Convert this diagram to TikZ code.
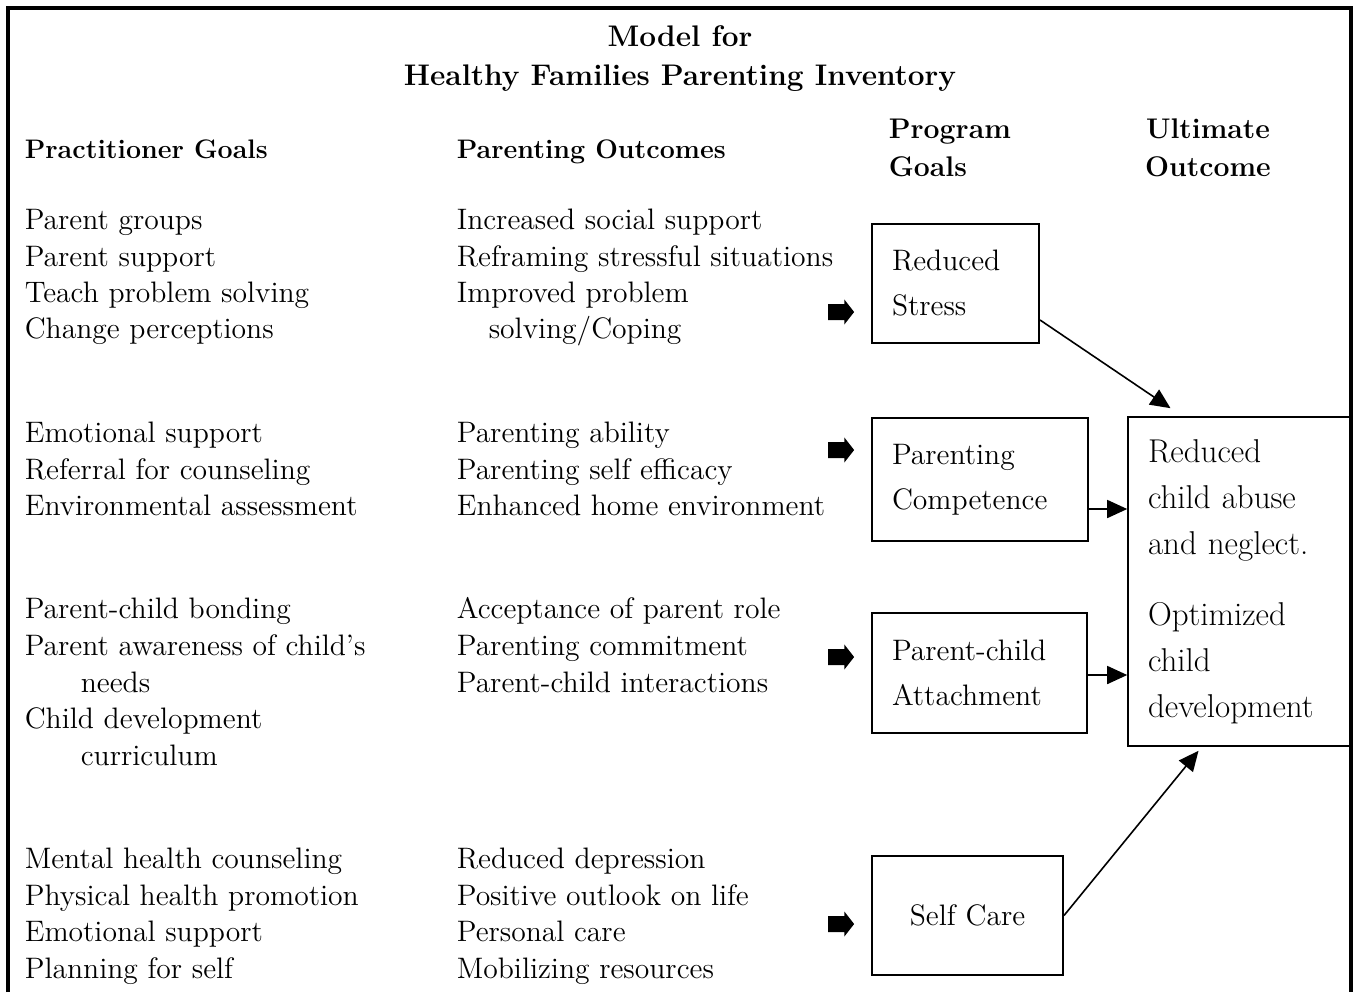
\documentclass[tikz,border=0pt]{standalone}
\usepackage{fontspec}
\usetikzlibrary{arrows.meta,shapes.arrows,positioning,calc}

\begin{document}
\begin{tikzpicture}[x=0.5pt,y=-0.5pt,line width=0.8pt,>={Triangle[length=10pt,width=9pt]}]
    \tikzset {
      entry/.style={anchor=base west,inner sep=0pt,font=\fontsize{14.8pt}{18pt}\selectfont},
      colhead/.style={anchor=base west,inner sep=0pt,font=\bfseries\fontsize{13.4pt}{16pt}\selectfont},
      bighead/.style={inner sep=0pt,font=\bfseries\fontsize{14.2pt}{17pt}\selectfont},
      maintitle/.style={anchor=base,inner sep=0pt,font=\bfseries\fontsize{14.9pt}{17pt}\selectfont},
      goalbox/.style={rectangle,draw,line width=1pt,align=left,inner xsep=10pt,inner ysep=0pt,font=\fontsize{14.8pt}{22.5pt}\selectfont},
      blockarrow/.style={single arrow,fill=black,inner xsep=0pt,inner ysep=3.6pt,minimum height=13pt,single arrow head extend=2.2pt,single arrow tip angle=104}
    }
    \useasboundingbox (0,0) rectangle (1353,992);
    \draw [line width=1.6pt] (8,992) -- (8,8) -- (1351,8) -- (1351,992);

    % title and headings
    \node [maintitle] (t1) at (680,46) {Model for};
    \node [maintitle] (t2) at (680,85) {Healthy Families Parenting Inventory};
    \node [colhead] (hp) at (24,158) {Practitioner Goals};
    \node [colhead] (ho) at (456,158) {Parenting Outcomes};
    \node [bighead, anchor=base west] (hg1) at (888,138) {Program};
    \node [bighead, anchor=base west] (hg2) at (888,176) {Goals};
    \node [bighead, anchor=base] (hu1) at (1208,138) {Ultimate};
    \node [bighead, anchor=base] (hu2) at (1208,176) {Outcome};

    % practitioner goals
    \node [entry] (pa1) at (24,229) {Parent groups};
    \node [entry] (pa2) at (24,266) {Parent support};
    \node [entry] (pa3) at (24,302) {Teach problem solving};
    \node [entry] (pa4) at (24,338) {Change perceptions};
    \node [entry] (pb1) at (24,442) {Emotional support};
    \node [entry] (pb2) at (24,479) {Referral for counseling};
    \node [entry] (pb3) at (24,515) {Environmental assessment};
    \node [entry] (pc1) at (24,618) {Parent-child bonding};
    \node [entry] (pc2) at (24,655) {Parent awareness of child’s};
    \node [entry] (pc3) at (80,692) {needs};
    \node [entry] (pc4) at (24,728) {Child development};
    \node [entry] (pc5) at (80,765) {curriculum};
    \node [entry] (pd1) at (24,868) {Mental health counseling};
    \node [entry] (pd2) at (24,905) {Physical health promotion};
    \node [entry] (pd3) at (24,941) {Emotional support};
    \node [entry] (pd4) at (24,978) {Planning for self};

    % parenting outcomes
    \node [entry] (oa1) at (456,229) {Increased social support};
    \node [entry] (oa2) at (456,266) {Reframing stressful situations};
    \node [entry] (oa3) at (456,302) {Improved problem};
    \node [entry] (oa4) at (488,338) {solving/Coping};
    \node [entry] (ob1) at (456,442) {Parenting ability};
    \node [entry] (ob2) at (456,479) {Parenting self efficacy};
    \node [entry] (ob3) at (456,515) {Enhanced home environment};
    \node [entry] (oc1) at (456,618) {Acceptance of parent role};
    \node [entry] (oc2) at (456,655) {Parenting commitment};
    \node [entry] (oc3) at (456,692) {Parent-child interactions};
    \node [entry] (od1) at (456,868) {Reduced depression};
    \node [entry] (od2) at (456,905) {Positive outlook on life};
    \node [entry] (od3) at (456,941) {Personal care};
    \node [entry] (od4) at (456,978) {Mobilizing resources};

    % program goals
    \node [blockarrow] (ar1) at (838,312) {};
    \node [blockarrow] (ar2) at (838,450) {};
    \node [blockarrow] (ar3) at (838,657) {};
    \node [blockarrow] (ar4) at (838,924) {};
    \node [goalbox, text width=63.5pt, minimum width=83.5pt, minimum height=59.5pt] (stress) at (955.5,283.5) {Reduced\\Stress};
    \node [goalbox, text width=88pt, minimum width=108pt, minimum height=61.5pt] (comp) at (980,479.5) {Parenting\\Competence};
    \node [goalbox, text width=87.5pt, minimum width=107.5pt, minimum height=60pt] (attach) at (979.5,673) {Parent-child\\Attachment};
    \node [goalbox, align=center, text width=75.5pt, minimum width=95.5pt, minimum height=59.5pt] (self) at (967.5,915.5) {Self Care};

    % ultimate outcome
    \node [goalbox, line width=0.8pt, text width=91.5pt, minimum width=111.5pt, minimum height=164.5pt,
           font=\fontsize{16.5pt}{23pt}\selectfont] (ult) at (1239.5,581.5)
          {Reduced\\child abuse\\and neglect.\\[12.5pt]Optimized\\child\\development};

    \coordinate (c1) at ($(comp.east)+(0,29.5)$);
    \coordinate (c2) at ($(attach.east)+(0,2)$);
    \draw [->] ([yshift=-18.25pt]stress.east) -- ([xshift=-34.5pt,yshift=4pt]ult.north);
    \draw [->] (c1) -- (c1 -| ult.west);
    \draw [->] (c2) -- (c2 -| ult.west);
    \draw [->] (self.east) -- ([xshift=-20.5pt,yshift=-2pt]ult.south);
  \end{tikzpicture}
\end{document}
